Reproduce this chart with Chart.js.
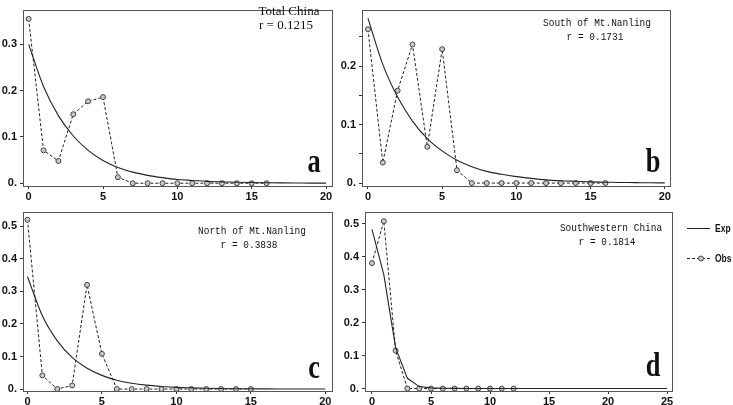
<!DOCTYPE html>
<html>
<head>
<meta charset="utf-8">
<script src="https://cdn.jsdelivr.net/npm/chart.js@4.4.0/dist/chart.umd.min.js"></script>
<style>
  body { margin: 0; background: #fff; width: 733px; height: 405px; overflow: hidden; position: relative; }
  canvas { position: absolute; }
</style>
</head>
<body>
<canvas id="pa" width="340" height="200" style="left:0px;top:0px"></canvas>
<canvas id="pb" width="340" height="200" style="left:335px;top:0px"></canvas>
<canvas id="pc" width="340" height="203" style="left:0px;top:202px"></canvas>
<canvas id="pd" width="398" height="203" style="left:335px;top:202px"></canvas>
<script>
// x positions (distance classes)
const xExp20 = [0,1,2,3,4,5,6,7,8,9,10,11,12,13,14,15,16,17,18,19,20];
const xExp25 = [0,1,2,3,4,5,6,7,8,9,10,11,12,13,14,15,16,17,18,19,20,21,22,23,24,25];

// a: Total China
const expA = [0.300,0.209,0.146,0.102,0.071,0.049,0.034,0.024,0.017,0.012,0.008,0.006,0.004,0.003,0.002,0.0014,0.001,0.0007,0.0005,0.0003,0.0002];
const xObsA = [0,1,2,3,4,5,6,7,8,9,10,11,12,13,14,15,16];
const obsA = [0.355,0.071,0.048,0.149,0.177,0.186,0.013,0,0,0,0,0,0,0,0,0,0];

// b: South of Mt.Nanling
const expB = [0.282,0.203,0.147,0.106,0.076,0.055,0.039,0.028,0.020,0.015,0.011,0.008,0.0055,0.004,0.003,0.002,0.0015,0.001,0.0008,0.0005,0.0004];
const xObsB = [0,1,2,3,4,5,6,7,8,9,10,11,12,13,14,15,16];
const obsB = [0.263,0.035,0.158,0.237,0.062,0.229,0.022,0,0,0,0,0,0,0,0,0,0];

// c: North of Mt.Nanling
const expC = [0.345,0.225,0.148,0.097,0.064,0.042,0.027,0.018,0.012,0.008,0.005,0.0035,0.0023,0.0015,0.001,0.0007,0.0004,0.0003,0.0002,0.0001,0.0001];
const xObsC = [0,1,2,3,4,5,6,7,8,9,10,11,12,13,14,15];
const obsC = [0.52,0.042,0,0.011,0.32,0.108,0,0,0,0,0,0,0,0,0,0];

// d: Southwestern China
const expD = [0.482,0.345,0.124,0.031,0.006,0.002,0.001,0.0005,0,0,0,0,0,0,0,0,0,0,0,0,0,0,0,0,0,0];
const xObsD = [0,1,2,3,4,5,6,7,8,9,10,11,12];
const obsD = [0.38,0.507,0.115,0,0,0,0,0,0,0,0,0,0];

// tick values
const xTicks20 = [0,5,10,15,20];
const xTicks25 = [0,5,10,15,20,25];
const yTicksA = [0,0.1,0.2,0.3];
const yTicksB = [0,0.05,0.1,0.15,0.2,0.25];
const yTicksC = [0,0.1,0.2,0.3,0.4,0.5];
const yTicksD = [0,0.1,0.2,0.3,0.4,0.5];

const INK = '#222';

function pairs(xs, ys) { return xs.map((x, i) => ({ x: x, y: ys[i] })); }

function yLabel(v) {
  if (v === 0) return '0.';
  if (Math.round(v * 100) % 10 !== 0) return '';
  return String(Math.round(v * 10) / 10);
}

// frame round the plot + free texts
const framePlugin = {
  id: 'frame',
  afterDraw(chart) {
    const a = chart.chartArea, ctx = chart.ctx;
    ctx.save();
    ctx.strokeStyle = '#555';
    ctx.lineWidth = 1;
    ctx.strokeRect(Math.round(a.left) + 0.5, Math.round(a.top) + 0.5, Math.round(a.right - a.left), Math.round(a.bottom - a.top));
    const notes = chart.options.plugins.notes || [];
    const off = chart.options.plugins.offset;
    notes.forEach(n => {
      ctx.save();
      ctx.fillStyle = '#111';
      ctx.font = n.font;
      ctx.textAlign = 'center';
      ctx.textBaseline = 'middle';
      ctx.translate(n.x - off.x, n.y - off.y);
      if (n.sx) ctx.scale(n.sx, 1);
      ctx.fillText(n.text, 0, 0);
      ctx.restore();
    });
    ctx.restore();
  }
};

const legendPlugin = {
  id: 'sideLegend',
  afterDraw(chart) {
    const opt = chart.options.plugins.sideLegend;
    if (!opt) return;
    const ctx = chart.ctx, off = chart.options.plugins.offset;
    chart.data.datasets.forEach((ds, i) => {
      const y = opt.y[i] - off.y;
      const x0 = opt.x - off.x;
      ctx.save();
      ctx.strokeStyle = ds.borderColor;
      ctx.lineWidth = 1;
      ctx.setLineDash(ds.borderDash || []);
      ctx.beginPath();
      ctx.moveTo(x0, y + 0.5);
      ctx.lineTo(x0 + 23, y + 0.5);
      ctx.stroke();
      ctx.setLineDash([]);
      if (ds.pointRadius > 0) {
        ctx.beginPath();
        ctx.arc(x0 + 14, y + 0.5, ds.pointRadius, 0, Math.PI * 2);
        ctx.fillStyle = ds.pointBackgroundColor;
        ctx.fill();
        ctx.strokeStyle = ds.pointBorderColor;
        ctx.stroke();
      }
      ctx.fillStyle = '#111';
      ctx.font = 'bold 10px "Liberation Sans"';
      ctx.textBaseline = 'middle';
      ctx.translate(x0 + 28, y + 1);
      ctx.scale(0.85, 1);
      ctx.fillText(ds.label, 0, 0);
      ctx.restore();
    });
  }
};

function panel(id, p) {
  const canvas = document.getElementById(id);
  const cx = p.canvas[0], cy = p.canvas[1], cw = canvas.width, ch = canvas.height;
  const [fl, ft, fr, fb] = p.frame;
  const tickFont = { family: '"Liberation Sans"', size: 11, weight: 'bold' };
  return new Chart(canvas, {
    type: 'line',
    data: {
      datasets: [
        {
          label: 'Exp',
          data: pairs(p.xExp, p.exp),
          borderColor: INK,
          borderWidth: 1.1,
          pointRadius: 0,
          cubicInterpolationMode: p.smooth ? 'monotone' : 'default',
          tension: 0
        },
        {
          label: 'Obs',
          data: pairs(p.xObs, p.obs),
          borderColor: INK,
          borderWidth: 1,
          borderDash: [3, 2],
          pointRadius: 2.5,
          pointBackgroundColor: '#c8c8c8',
          pointBorderColor: '#444',
          pointBorderWidth: 1,
          tension: 0
        }
      ]
    },
    options: {
      responsive: false,
      animation: false,
      layout: { padding: { left: 0, top: ft - cy, right: cx + cw - fr, bottom: 0 } },
      scales: {
        x: {
          type: 'linear',
          min: p.xRange[0], max: p.xRange[1],
          afterBuildTicks: s => { s.ticks = p.xTicks.map(v => ({ value: v })); },
          afterFit: s => { s.height = cy + ch - fb; },
          grid: { drawOnChartArea: false, tickLength: 3, color: '#333' },
          border: { display: false },
          ticks: { font: tickFont, color: '#111', padding: 1, maxRotation: 0, autoSkip: false }
        },
        y: {
          min: p.yRange[0], max: p.yRange[1],
          afterBuildTicks: s => { s.ticks = p.yTicks.map(v => ({ value: v })); },
          afterFit: s => { s.width = fl - cx; },
          grid: { drawOnChartArea: false, tickLength: 3, color: '#333' },
          border: { display: false },
          ticks: { font: tickFont, color: '#111', padding: 3, autoSkip: false, callback: v => yLabel(v) }
        }
      },
      plugins: {
        legend: { display: false },
        tooltip: { enabled: false },
        offset: { x: cx, y: cy },
        notes: p.notes,
        sideLegend: p.sideLegend
      }
    },
    plugins: [framePlugin, legendPlugin]
  });
}

const serif = '13px "Liberation Serif"';
const mono = '11px "Liberation Mono"';
const big = 'bold 33px "Liberation Serif"';

panel('pa', {
  canvas: [0, 0], frame: [23, 2, 332, 186],
  xRange: [-0.38, 20.4], yRange: [-0.006, 0.375],
  xTicks: xTicks20, yTicks: yTicksA,
  xExp: xExp20, exp: expA, xObs: xObsA, obs: obsA, smooth: true,
  notes: [
    { text: 'Total China', x: 289, y: 12, font: serif },
    { text: 'r = 0.1215', x: 286, y: 26, font: serif },
    { text: 'a', x: 314, y: 163, font: big, sx: 0.8 }
  ]
});

panel('pb', {
  canvas: [335, 0], frame: [362, 2, 672, 186],
  xRange: [-0.4, 20.35], yRange: [-0.005, 0.2966],
  xTicks: xTicks20, yTicks: yTicksB,
  xExp: xExp20, exp: expB, xObs: xObsB, obs: obsB, smooth: true,
  notes: [
    { text: 'South of Mt.Nanling', x: 597, y: 23, font: mono, sx: 0.86 },
    { text: 'r = 0.1731', x: 595, y: 37, font: mono, sx: 0.86 },
    { text: 'b', x: 653, y: 163, font: big, sx: 0.8 }
  ]
});

panel('pc', {
  canvas: [0, 202], frame: [23, 208, 332, 391],
  xRange: [-0.3, 20.45], yRange: [-0.006, 0.545],
  xTicks: xTicks20, yTicks: yTicksC,
  xExp: xExp20, exp: expC, xObs: xObsC, obs: obsC, smooth: true,
  notes: [
    { text: 'North of Mt.Nanling', x: 252, y: 231, font: mono, sx: 0.86 },
    { text: 'r = 0.3838', x: 249, y: 245, font: mono, sx: 0.86 },
    { text: 'c', x: 314, y: 369, font: big, sx: 0.8 }
  ]
});

panel('pd', {
  canvas: [335, 202], frame: [365, 207, 672, 391],
  xRange: [-0.593, 25.42], yRange: [-0.0074, 0.536],
  xTicks: xTicks25, yTicks: yTicksD,
  xExp: xExp25, exp: expD, xObs: xObsD, obs: obsD, smooth: false,
  notes: [
    { text: 'Southwestern China', x: 611, y: 228, font: mono, sx: 0.86 },
    { text: 'r = 0.1814', x: 607, y: 242, font: mono, sx: 0.86 },
    { text: 'd', x: 653, y: 367, font: big, sx: 0.8 }
  ],
  sideLegend: { x: 687, y: [228, 258] }
});
</script>
</body>
</html>
